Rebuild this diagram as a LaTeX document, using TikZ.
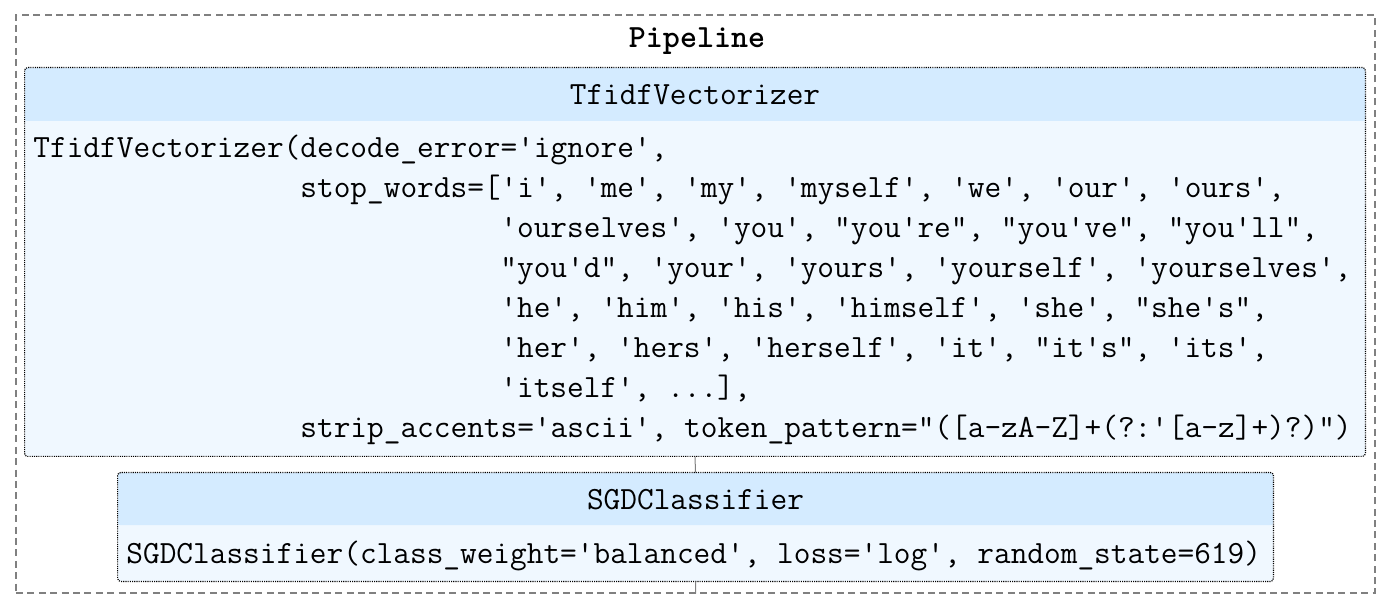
\documentclass[tikz,border=0pt]{standalone}
\usepackage{fontspec}
\usepackage{xcolor}
\usetikzlibrary{positioning}

\definecolor{headblue}{HTML}{D4EBFF}
\definecolor{bodyblue}{HTML}{F0F8FF}

\tikzset{
    codefont/.style={font=\ttfamily\fontsize{16.2pt}{20pt}\selectfont},
    pipebox/.style={draw=gray, dash pattern=on 3.5pt off 2.2pt, line width=0.65pt, inner sep=0pt},
    stepbody/.style={fill=bodyblue, rounded corners=1pt, inner sep=0pt},
    stephead/.style={codefont, fill=headblue, rounded corners=1pt, inner sep=0pt,
        text height=10.5pt, text depth=0pt, anchor=north},
    stepedge/.style={draw=black, dash pattern=on 0.55pt off 0.55pt, line width=0.6pt, rounded corners=1.5pt},
    codeline/.style={codefont, anchor=base west, inner sep=0pt},
    joinline/.style={draw=gray, line width=0.5pt}
}

\begin{document}
\begin{tikzpicture}[x=0.5pt, y=-0.5pt]
                                \useasboundingbox (0, 0) rectangle (1396, 608);
                                \node[pipebox, minimum width=679.5pt, minimum height=289pt] (pipeline) at (695.5, 304) {};
                                \node[codefont, font=\ttfamily\bfseries\fontsize{16.2pt}{20pt}\selectfont, anchor=base, inner sep=0pt] (pipetitle) at (697, 48) {Pipeline};
                                % first step
                                \node[stepbody, minimum width=670pt, minimum height=194pt] (tfidf) at (695, 262) {};
                                \node[stephead, minimum width=670pt, minimum height=26.5pt] (tfidfhead) at (tfidf.north) {TfidfVectorizer};
                                \draw[stepedge] (tfidf.north west) rectangle (tfidf.south east);
                                \node[codeline] (tfidf1) at (33, 158) {TfidfVectorizer(decode\_error='ignore',};
                                \node[codeline] (tfidf2) at (300, 198) {stop\_words=['i', 'me', 'my', 'myself', 'we', 'our', 'ours',};
                                \node[codeline] (tfidf3) at (500, 238) {'ourselves', 'you', "you're", "you've", "you'll",};
                                \node[codeline] (tfidf4) at (500, 278) {"you'd", 'your', 'yours', 'yourself', 'yourselves',};
                                \node[codeline] (tfidf5) at (500, 318) {'he', 'him', 'his', 'himself', 'she', "she's",};
                                \node[codeline] (tfidf6) at (500, 358) {'her', 'hers', 'herself', 'it', "it's", 'its',};
                                \node[codeline] (tfidf7) at (500, 398) {'itself', ...],};
                                \node[codeline] (tfidf8) at (300, 438) {strip\_accents='ascii', token\_pattern="([a-zA-Z]+(?:'[a-z]+)?)")};
                                % second step
                                \node[stepbody, minimum width=577.5pt, minimum height=54pt] (sgd) at (695.5, 527) {};
                                \node[stephead, minimum width=577.5pt, minimum height=26pt] (sgdhead) at (sgd.north) {SGDClassifier};
                                \draw[stepedge] (sgd.north west) rectangle (sgd.south east);
                                \node[codeline] (sgd1) at (126, 563) {SGDClassifier(class\_weight='balanced', loss='log', random\_state=619)};
                                \draw[joinline]
                                (tfidf.south) -- (sgd.north)
                                (sgd.south) -- (sgd.south |- pipeline.south);
                            \end{tikzpicture}
\end{document}
